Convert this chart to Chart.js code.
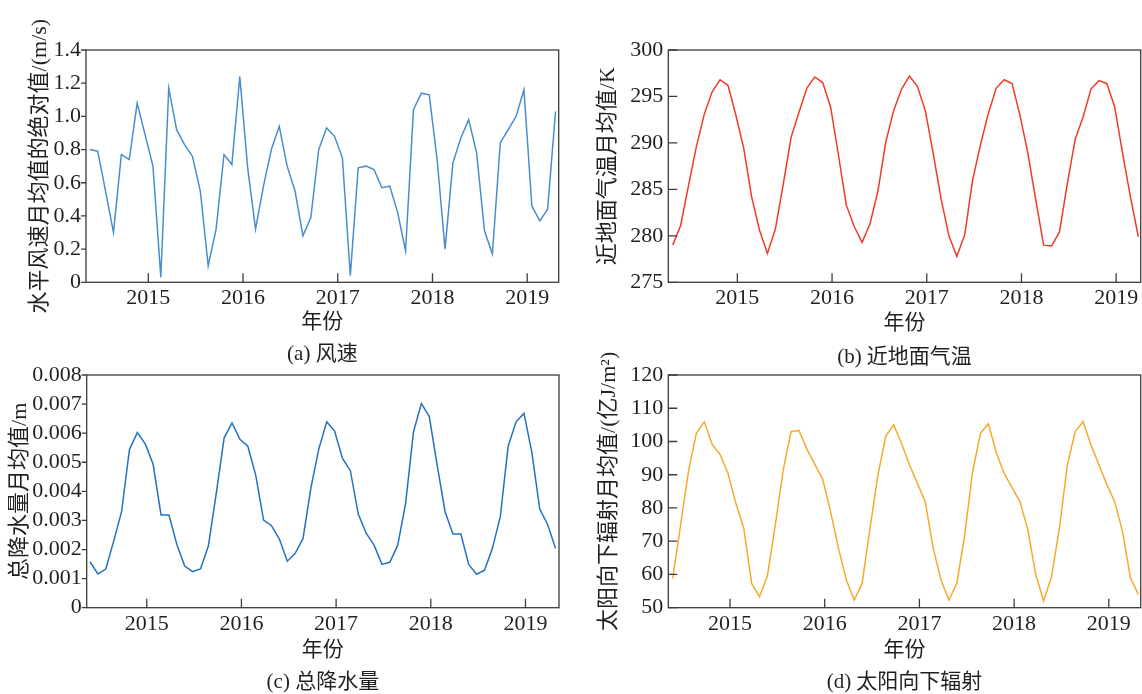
<!DOCTYPE html>
<html>
<head>
<meta charset="utf-8">
<script src="https://cdn.jsdelivr.net/npm/chart.js@4.4.1/dist/chart.umd.min.js"></script>
<style>
html, body { margin: 0; padding: 0; background: #fff; }
#wrap { position: relative; width: 1142px; height: 694px; overflow: hidden; }
#wrap canvas { position: absolute; }
</style>
</head>
<body>
<div id="wrap">
  <canvas id="cWind"></canvas>
  <canvas id="cTemp"></canvas>
  <canvas id="cRain"></canvas>
  <canvas id="cSun"></canvas>
</div>
<script>
"use strict";

// monthly means, first value = May 2014, last = Apr 2019
var startYear = 2014, startMonth = 5;

var windSpeed = [
    0.80, 0.79, 0.55, 0.30, 0.77, 0.74, 1.08, 0.89, 0.70, 0.03,
    1.17, 0.92, 0.83, 0.76, 0.55, 0.10, 0.32, 0.77, 0.71, 1.24,
    0.69, 0.32, 0.58, 0.80, 0.94, 0.70, 0.55, 0.28, 0.39, 0.80,
    0.93, 0.88, 0.75, 0.04, 0.69, 0.70, 0.68, 0.57, 0.58, 0.42,
    0.19, 1.04, 1.14, 1.13, 0.74, 0.20, 0.72, 0.87, 0.98, 0.78,
    0.31, 0.17, 0.84, 0.92, 1.00, 1.16, 0.46, 0.37, 0.44, 1.03
];
var airTemp = [
    279.0, 281.1, 285.4, 289.6, 293.1, 295.5, 296.8, 296.2, 293.0, 289.4,
    284.2, 280.6, 278.1, 280.7, 285.5, 290.6, 293.3, 295.9, 297.1, 296.5,
    293.9, 288.7, 283.3, 281.0, 279.3, 281.3, 284.8, 290.1, 293.5, 295.8,
    297.2, 296.1, 293.5, 288.9, 284.0, 280.0, 277.8, 280.1, 286.0, 289.8,
    293.2, 295.9, 296.8, 296.4, 293.0, 288.9, 283.9, 279.0, 278.9, 280.4,
    285.6, 290.4, 292.8, 295.8, 296.7, 296.4, 293.9, 288.9, 284.2, 279.9
];
var precip = [
    0.00158, 0.00116, 0.00133, 0.00229, 0.00330, 0.00544, 0.00602, 0.00563, 0.00493, 0.00319,
    0.00319, 0.00218, 0.00143, 0.00124, 0.00133, 0.00212, 0.00393, 0.00584, 0.00635, 0.00579,
    0.00555, 0.00456, 0.00301, 0.00282, 0.00236, 0.00160, 0.00187, 0.00238, 0.00413, 0.00546,
    0.00639, 0.00607, 0.00513, 0.00471, 0.00322, 0.00256, 0.00215, 0.00149, 0.00156, 0.00215,
    0.00359, 0.00605, 0.00702, 0.00657, 0.00490, 0.00330, 0.00253, 0.00253, 0.00149, 0.00115,
    0.00129, 0.00204, 0.00313, 0.00556, 0.00639, 0.00668, 0.00534, 0.00339, 0.00286, 0.00204
];
var solarDown = [
    58.8, 74.9, 91.1, 102.5, 105.9, 99.1, 96.1, 90.4, 81.4, 73.9,
    57.3, 53.3, 59.6, 74.9, 91.4, 103.0, 103.3, 97.7, 93.1, 88.7,
    78.9, 67.9, 58.3, 52.3, 57.3, 73.9, 89.9, 101.6, 105.0, 99.4,
    93.0, 87.4, 81.9, 67.9, 58.3, 52.3, 57.3, 71.9, 90.9, 102.5,
    105.3, 96.7, 90.4, 86.1, 81.9, 73.4, 60.0, 52.0, 59.3, 73.9,
    92.9, 103.0, 106.0, 98.9, 93.1, 87.1, 81.9, 72.9, 59.0, 54.0
];

var yearTicks = [2015, 2016, 2017, 2018, 2019];
var windTicks = [0, 0.2, 0.4, 0.6, 0.8, 1.0, 1.2, 1.4];
var tempTicks = [275, 280, 285, 290, 295, 300];
var rainTicks = [0, 0.001, 0.002, 0.003, 0.004, 0.005, 0.006, 0.007, 0.008];
var sunTicks = [50, 60, 70, 80, 90, 100, 110, 120];

var TEXT = '#231f20';
var AXIS = '#3c3c3c';
Chart.defaults.font.family = "'Liberation Serif', 'Noto Sans CJK SC', serif";
Chart.defaults.color = TEXT;

function toYear(i, shift) {
    return startYear + (startMonth - 1 + i + shift) / 12;
}

// box frame, inward/outward tick marks and the panel caption
var framePlugin = {
    id: 'frame',
    afterDatasetsDraw: function (chart, args, opts) {
        var a = chart.chartArea, ctx = chart.ctx;
        var xs = chart.scales.x, ys = chart.scales.y;
        ctx.save();
        ctx.strokeStyle = AXIS;
        ctx.lineWidth = 1.3;
        ctx.strokeRect(a.left, a.top, a.right - a.left, a.bottom - a.top);
        ctx.beginPath();
        xs.ticks.forEach(function (t) {
            var px = xs.getPixelForValue(t.value);
            ctx.moveTo(px, a.bottom);
            ctx.lineTo(px, a.bottom - 9);
        });
        ys.ticks.forEach(function (t) {
            var py = ys.getPixelForValue(t.value);
            if (opts.outward) {
                ctx.moveTo(a.left - 5, py);
                ctx.lineTo(a.left, py);
            } else {
                ctx.moveTo(a.left, py);
                ctx.lineTo(a.left + 9, py);
            }
        });
        ctx.stroke();
        ctx.fillStyle = TEXT;
        ctx.font = "21px 'Liberation Serif', 'Noto Sans CJK SC'";
        ctx.textAlign = 'center';
        ctx.textBaseline = 'middle';
        ctx.fillText(opts.caption, (a.left + a.right) / 2, opts.captionY);
        ctx.restore();
    }
};

var panels = [
    { id: 'cWind', box: [0, 0, 570, 372], area: [86, 50, 558.7, 282.3],
      values: windSpeed, color: '#4a8dcc', yTicks: windTicks, digits: 1,
      yTitle: '水平风速月均值的绝对值/(m/s)', caption: '(a) 风速',
      shift: 0.59, span: [-0.48, 59.4], outward: true,
      yTitleX: 40, xTitleY: 322, captionY: 354 },
    { id: 'cTemp', box: [570, 0, 572, 372], area: [668.3, 50, 1140.7, 282.3],
      values: airTemp, color: '#ef3b2a', yTicks: tempTicks, digits: 0,
      yTitle: '近地面气温月均值/K', caption: '(b) 近地面气温',
      shift: -0.19, span: [-0.56, 59.3], outward: false,
      yTitleX: 38, xTitleY: 323, captionY: 357 },
    { id: 'cRain', box: [0, 350, 570, 344], area: [86.7, 375, 559, 607.7],
      values: precip, color: '#2372bf', yTicks: rainTicks, digits: 3,
      yTitle: '总降水量月均值/m', caption: '(c) 总降水量',
      shift: 0.81, span: [-0.42, 59.44], outward: true,
      yTitleX: 20, xTitleY: 650, captionY: 682 },
    { id: 'cSun', box: [570, 350, 572, 344], area: [668.3, 375, 1140.7, 607.7],
      values: solarDown, color: '#f6aa2c', yTicks: sunTicks, digits: 0,
      yTitle: '太阳向下辐射月均值/(亿J/m²)', caption: '(d) 太阳向下辐射',
      shift: 0.74, span: [-0.56, 59.3], outward: false,
      yTitleX: 39, xTitleY: 650, captionY: 682 }
];

function makeChart(p) {
    var cv = document.getElementById(p.id);
    var left = p.box[0], top = p.box[1], w = p.box[2], h = p.box[3];
    cv.width = w;
    cv.height = h;
    cv.style.left = left + 'px';
    cv.style.top = top + 'px';

    var yWidth = p.area[0] - left;
    var xHeight = p.xTitleY + 12.6 - p.area[3];
    var points = p.values.map(function (v, i) {
        return { x: toYear(i, p.shift), y: v };
    });
    var yt = p.yTicks;

    return new Chart(cv, {
        type: 'line',
        data: {
            datasets: [{
                data: points,
                borderColor: p.color,
                borderWidth: 1.5,
                pointRadius: 0,
                tension: 0,
                fill: false
            }]
        },
        options: {
            responsive: false,
            animation: false,
            events: [],
            layout: {
                padding: {
                    left: 0,
                    top: p.area[1] - top,
                    right: left + w - p.area[2],
                    bottom: top + h - p.area[3] - xHeight
                }
            },
            plugins: {
                legend: { display: false },
                tooltip: { enabled: false },
                frame: { outward: p.outward, caption: p.caption, captionY: p.captionY - top }
            },
            scales: {
                x: {
                    type: 'linear',
                    min: toYear(p.span[0], p.shift),
                    max: toYear(p.span[1], p.shift),
                    afterBuildTicks: function (s) {
                        s.ticks = yearTicks.map(function (v) { return { value: v }; });
                    },
                    afterFit: function (s) { s.height = xHeight; },
                    grid: { display: false, drawTicks: false },
                    border: { display: false },
                    ticks: {
                        padding: 3,
                        maxRotation: 0,
                        autoSkip: false,
                        font: { size: 22 },
                        callback: function (v) { return String(v); }
                    },
                    title: {
                        display: true,
                        text: '年份',
                        font: { size: 21, lineHeight: 1.2 },
                        padding: { top: 0, bottom: 0 }
                    }
                },
                y: {
                    min: yt[0],
                    max: yt[yt.length - 1],
                    afterBuildTicks: function (s) {
                        s.ticks = yt.map(function (v) { return { value: v }; });
                    },
                    afterFit: function (s) { s.width = yWidth; },
                    grid: { display: false, drawTicks: false },
                    border: { display: false },
                    ticks: {
                        padding: p.outward ? 5 : 5,
                        autoSkip: false,
                        font: { size: 22 },
                        callback: function (v) { return v === 0 ? '0' : v.toFixed(p.digits); }
                    },
                    title: {
                        display: true,
                        text: p.yTitle,
                        font: { size: 22, lineHeight: 1.2 },
                        padding: { top: p.yTitleX - 13.2, bottom: 0 }
                    }
                }
            }
        },
        plugins: [framePlugin]
    });
}

panels.forEach(makeChart);
</script>
</body>
</html>
